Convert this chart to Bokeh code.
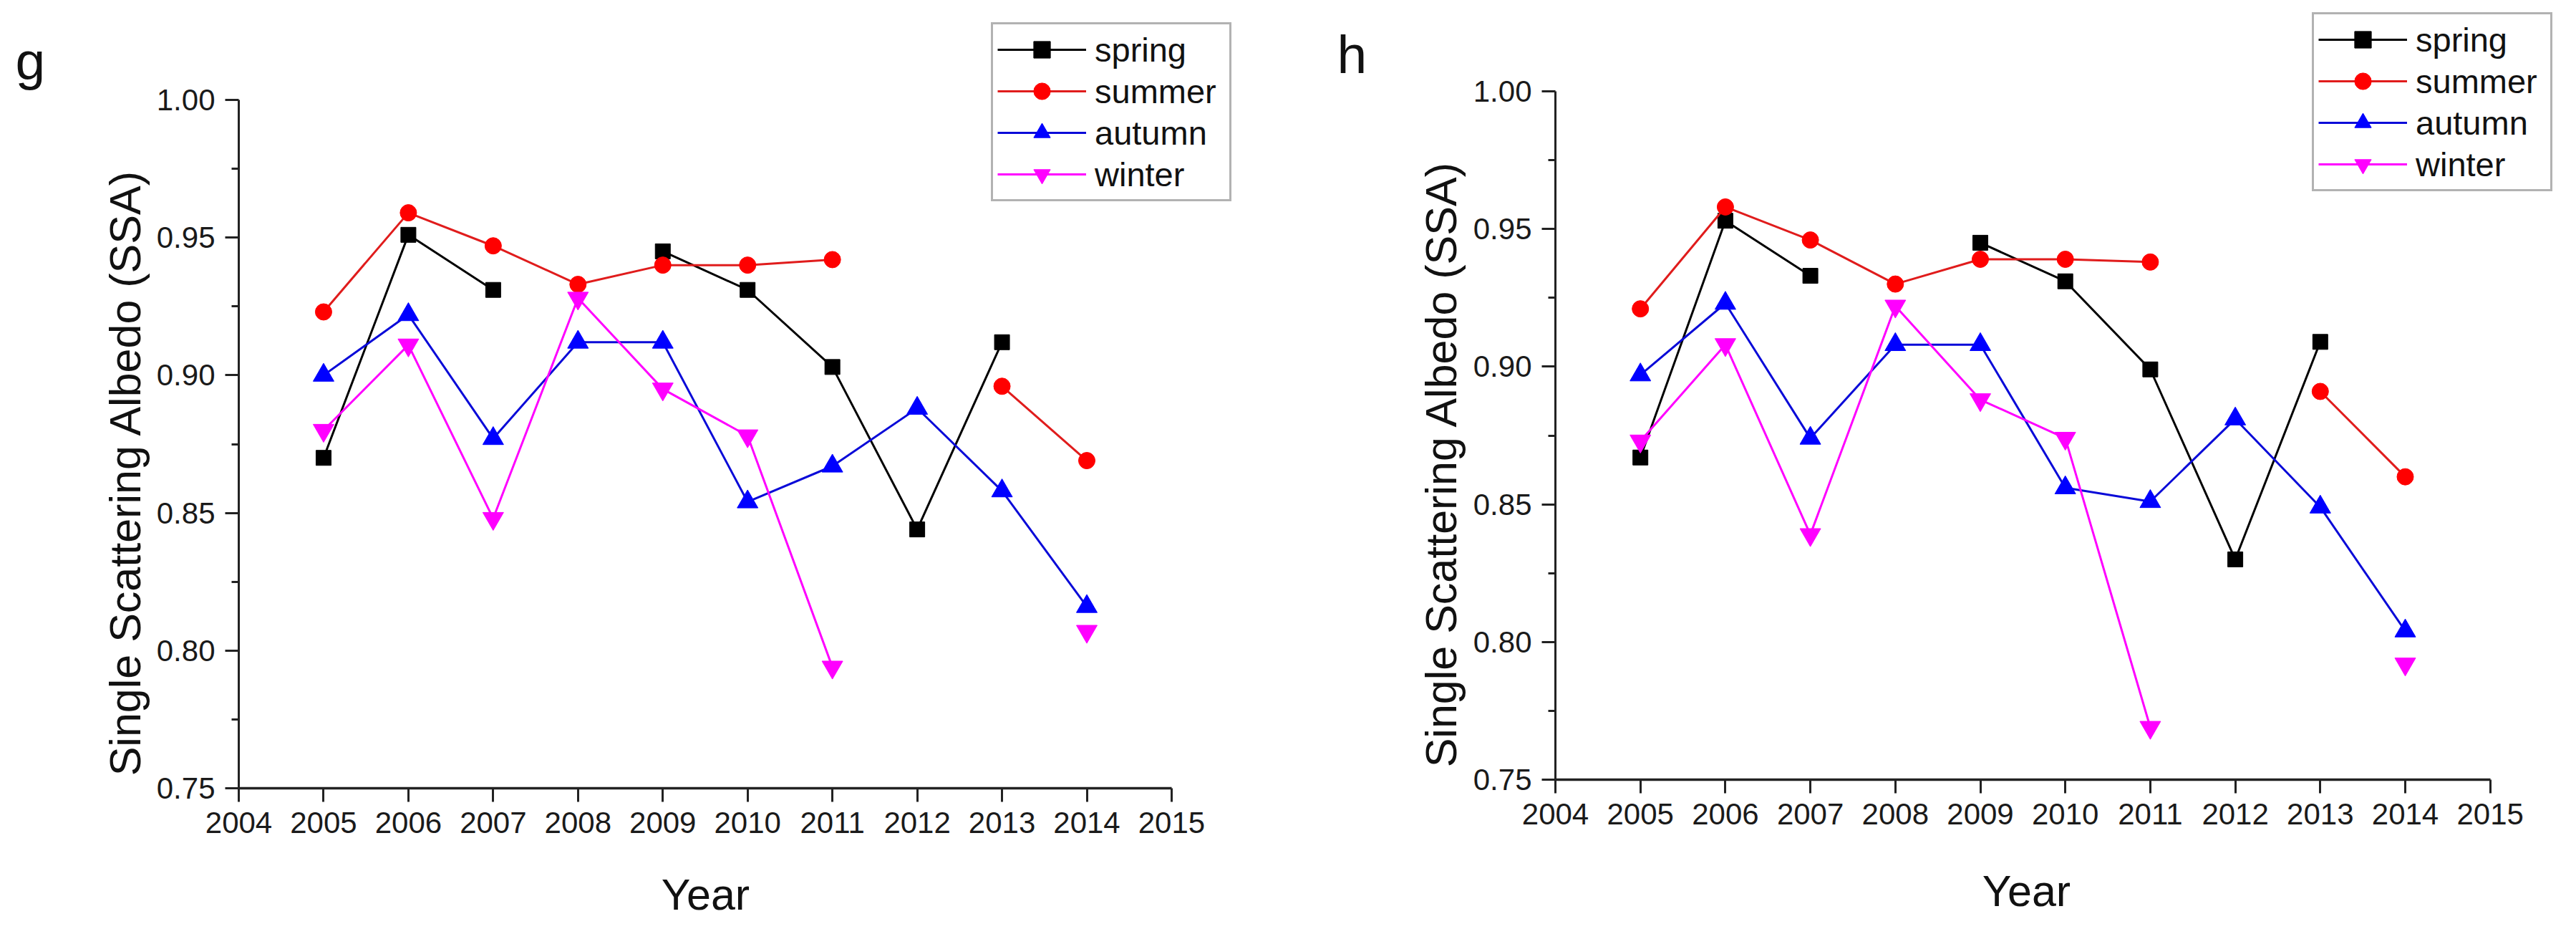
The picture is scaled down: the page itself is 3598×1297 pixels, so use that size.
import math
import numpy as np
from bokeh.plotting import figure
from bokeh.layouts import row
from bokeh.models import (Legend, LegendItem, Label, FixedTicker, PrintfTickFormatter, Range1d)
from bokeh.embed import file_html
from bokeh.resources import INLINE

# ---------------- data ----------------
years = [2005, 2006, 2007, 2008, 2009, 2010, 2011, 2012, 2013, 2014]
x_ticks = [2004, 2005, 2006, 2007, 2008, 2009, 2010, 2011, 2012, 2013, 2014, 2015]
y_ticks = [0.75, 0.80, 0.85, 0.90, 0.95, 1.00]
y_minor = [0.775, 0.825, 0.875, 0.925, 0.975]
seasons = ["spring", "summer", "autumn", "winter"]

g_spring = [0.870, 0.951, 0.931, None, 0.945, 0.931, 0.903, 0.844, 0.912, None]
g_summer = [0.923, 0.959, 0.947, 0.933, 0.940, 0.940, 0.942, None, 0.896, 0.869]
g_autumn = [0.900, 0.922, 0.877, 0.912, 0.912, 0.854, 0.867, 0.888, 0.858, 0.816]
g_winter = [0.880, 0.911, 0.848, 0.928, 0.895, 0.878, 0.794, None, None, 0.807]

h_spring = [0.867, 0.953, 0.933, None, 0.945, 0.931, 0.899, 0.830, 0.909, None]
h_summer = [0.921, 0.958, 0.946, 0.930, 0.939, 0.939, 0.938, None, 0.891, 0.860]
h_autumn = [0.897, 0.923, 0.874, 0.908, 0.908, 0.856, 0.851, 0.881, 0.849, 0.804]
h_winter = [0.873, 0.908, 0.839, 0.922, 0.888, 0.874, 0.769, None, None, 0.792]

# ---------------- style ----------------
FONT = "Liberation Sans"
marker_of = {"spring": "square", "summer": "circle", "autumn": "triangle", "winter": "inverted_triangle"}
marker_size = {"spring": 21, "summer": 23, "autumn": 29, "winter": 29}
fill_of = {"spring": "#000000", "summer": "#FF0000", "autumn": "#0000FF", "winter": "#FF00FF"}
line_of = {"spring": "#000000", "summer": "#E01C1C", "autumn": "#0A0AD8", "winter": "#FF00FF"}

H = 1281


def arr(v):
    return np.array([np.nan if a is None else a for a in v], dtype=float)


def make_panel(tag, series, width, axis_px, px_per_year, y075_px, legend_margin,
               tag_pos, ylab_pos, xlab_pos):
    # frame covers the whole figure; axes are pinned at 2004 / 0.75
    px_per_unit = 3844.0
    x0 = 2004 - axis_px / px_per_year
    x1 = 2004 + (width - axis_px) / px_per_year
    y0 = 0.75 - (H - y075_px) / px_per_unit
    y1 = 0.75 + y075_px / px_per_unit
    p = figure(width=width, height=H, output_backend="svg", toolbar_location=None,
               title=None, min_border=0, min_border_left=0, min_border_right=0,
               min_border_top=0, min_border_bottom=0,
               x_range=Range1d(x0, x1), y_range=Range1d(y0, y1))
    p.outline_line_color = None
    p.grid.visible = False
    p.background_fill_color = "white"
    p.border_fill_color = "white"

    items = []
    for name, vals in zip(seasons, series):
        y = arr(vals)
        lr = p.line(years, y, line_color=line_of[name], line_width=3)
        sr = p.scatter(years, y, marker=marker_of[name], size=marker_size[name],
                       fill_color=fill_of[name], line_color=fill_of[name], line_width=1)
        items.append(LegendItem(label=name, renderers=[lr, sr]))

    leg = Legend(items=items, location="top_right", margin=legend_margin, padding=6, spacing=0,
                 glyph_width=124, glyph_height=58, label_height=58, label_width=182,
                 label_standoff=12, label_text_font=FONT, label_text_font_size="47px",
                 label_text_color="#111111", border_line_color="#666666",
                 border_line_width=3, background_fill_color="white", background_fill_alpha=1.0)
    p.add_layout(leg)

    xa, ya = p.xaxis[0], p.yaxis[0]
    xa.ticker = FixedTicker(ticks=x_ticks, minor_ticks=[])
    xa.formatter = PrintfTickFormatter(format="%d")
    xa.bounds = (2004, 2015)
    xa.fixed_location = 0.75
    ya.ticker = FixedTicker(ticks=y_ticks, minor_ticks=y_minor)
    ya.formatter = PrintfTickFormatter(format="%.2f")
    ya.bounds = (0.75, 1.00)
    ya.fixed_location = 2004
    for ax, lw in ((xa, 3.5), (ya, 3)):
        ax.axis_line_width = lw
        ax.axis_line_color = "#222222"
        ax.major_tick_line_color = "#222222"
        ax.major_tick_line_width = 3
        ax.major_tick_out = 19
        ax.major_tick_in = 0
        ax.minor_tick_line_color = "#222222"
        ax.minor_tick_line_width = 3
        ax.minor_tick_out = 10
        ax.minor_tick_in = 0
        ax.major_label_text_font = FONT
        ax.major_label_text_font_size = "42px"
        ax.major_label_text_color = "#1a1a1a"
        ax.major_label_standoff = 14
        ax.axis_label = None

    p.add_layout(Label(x=tag_pos[0], y=tag_pos[1], x_units="screen", y_units="screen",
                       text=tag, text_font=FONT, text_font_size="75px", text_color="#111111",
                       text_align="left", text_baseline="alphabetic"))
    p.add_layout(Label(x=ylab_pos[0], y=ylab_pos[1], x_units="screen", y_units="screen",
                       text="Single Scattering Albedo (SSA)", angle=math.pi / 2,
                       text_font=FONT, text_font_size="61px", text_color="#111111",
                       text_align="center", text_baseline="alphabetic"))
    p.add_layout(Label(x=xlab_pos[0], y=xlab_pos[1], x_units="screen", y_units="screen",
                       text="Year", text_font=FONT, text_font_size="61px", text_color="#111111",
                       text_align="center", text_baseline="alphabetic"))
    return p


p1 = make_panel("g", [g_spring, g_summer, g_autumn, g_winter],
                width=1751, axis_px=333, px_per_year=118.45, y075_px=1100, legend_margin=31,
                tag_pos=(21, 1197), ylab_pos=(174, 622), xlab_pos=(985, 33))
p2 = make_panel("h", [h_spring, h_summer, h_autumn, h_winter],
                width=1831, axis_px=421, px_per_year=118.7, y075_px=1088, legend_margin=17,
                tag_pos=(116, 1206), ylab_pos=(261, 634), xlab_pos=(1079, 38))

layout = row(p1, p2)
open("out.html", "w").write(file_html(layout, INLINE))
